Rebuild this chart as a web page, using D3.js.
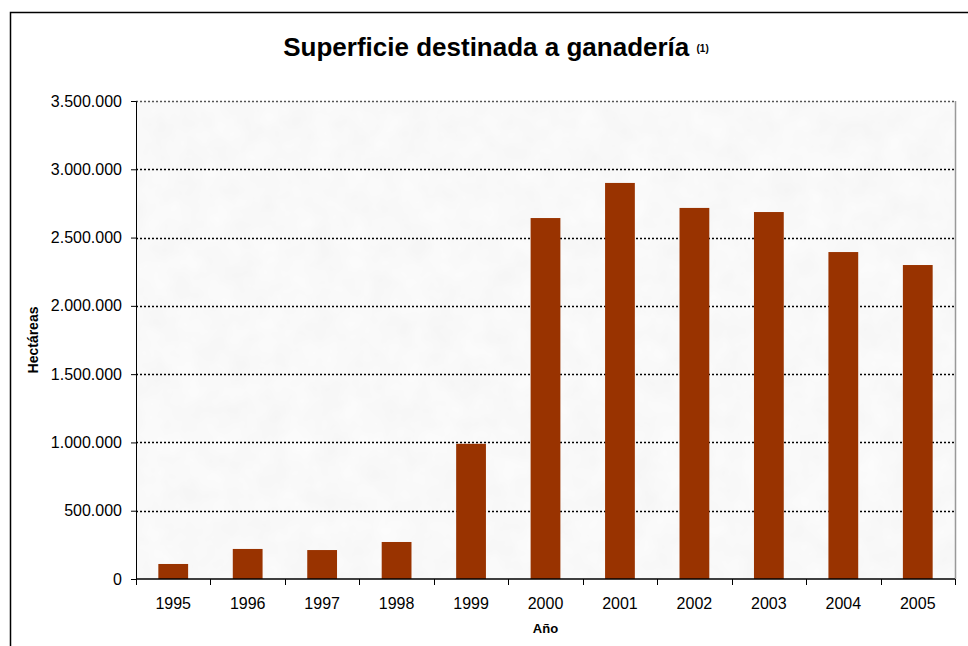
<!DOCTYPE html>
<html lang="es">
<head>
<meta charset="UTF-8">
<script src="https://d3js.org/d3.v7.min.js"></script>
<title>Superficie destinada a ganadería</title>
<style>
  html, body { margin: 0; padding: 0; background: #fff; }
  text { font-family: "Liberation Sans", Arial, sans-serif; fill: #000; }
  .tick text { font-size: 16px; }
</style>
</head>
<body>
<script>
// datos
const years = ["1995", "1996", "1997", "1998", "1999", "2000", "2001", "2002", "2003", "2004", "2005"];
const hectares = [110000, 220000, 212000, 271000, 990000, 2643000, 2900000, 2717000, 2687000, 2394000, 2299000];
const yTicks = [0, 500000, 1000000, 1500000, 2000000, 2500000, 3000000, 3500000];

const width = 968, height = 646;
const margin = { top: 101, right: 13, bottom: 67, left: 136 };

const svg = d3.select("body").append("svg")
  .attr("width", width)
  .attr("height", height);

// textura gris clara del fondo
const defs = svg.append("defs");
const filt = defs.append("filter")
  .attr("id", "paper")
  .attr("x", 0).attr("y", 0).attr("width", 1).attr("height", 1);
filt.append("feTurbulence")
  .attr("type", "fractalNoise")
  .attr("baseFrequency", 0.035)
  .attr("numOctaves", 3)
  .attr("seed", 4)
  .attr("result", "noise");
filt.append("feColorMatrix")
  .attr("in", "noise")
  .attr("type", "matrix")
  .attr("values", "0 0 0 0.07 0.91  0 0 0 0.07 0.91  0 0 0 0.07 0.91  0 0 0 0 1");

// outer frame (only top and left visible)
svg.append("path")
  .attr("d", "M10.5,646 V12.5 H968")
  .attr("fill", "none")
  .attr("stroke", "#000")
  .attr("stroke-width", 1.5);

const x = d3.scaleBand()
  .domain(years)
  .range([margin.left, width - margin.right])
  .paddingInner(0.6)
  .paddingOuter(0.3);

const y = d3.scaleLinear()
  .domain([0, 3500000])
  .range([height - margin.bottom, margin.top]);

const es = d3.formatLocale({ decimal: ",", thousands: ".", grouping: [3], currency: ["", " €"] });
const fmt = es.format(",");

// plot background
svg.append("rect")
  .attr("x", margin.left)
  .attr("y", margin.top)
  .attr("width", width - margin.right - margin.left)
  .attr("height", height - margin.bottom - margin.top)
  .attr("fill", "#f1f1f1")
  .attr("filter", "url(#paper)");

// gridlines
svg.append("g")
  .selectAll("line")
  .data(yTicks.slice(1))
  .join("line")
  .attr("x1", margin.left)
  .attr("x2", width - margin.right)
  .attr("y1", d => Math.round(y(d)) + 0.5)
  .attr("y2", d => Math.round(y(d)) + 0.5)
  .attr("stroke", (d, i) => i === yTicks.length - 2 ? "#555" : "#000")
  .attr("stroke-width", 1.6)
  .attr("stroke-dasharray", "2,2");

// right border of plot
svg.append("line")
  .attr("x1", width - margin.right + 0.5)
  .attr("x2", width - margin.right + 0.5)
  .attr("y1", margin.top)
  .attr("y2", height - margin.bottom)
  .attr("stroke", "#999")
  .attr("stroke-width", 1.5);

// bars
svg.append("g")
  .selectAll("rect")
  .data(years.map((yr, i) => ({ yr, v: hectares[i] })))
  .join("rect")
  .attr("x", d => x(d.yr))
  .attr("y", d => y(d.v))
  .attr("width", x.bandwidth())
  .attr("height", d => y(0) - y(d.v))
  .attr("fill", "#993300");

// y axis
const yAxis = svg.append("g")
  .attr("transform", `translate(${margin.left},0)`)
  .call(d3.axisLeft(y).tickValues(yTicks).tickFormat(fmt).tickSize(5).tickPadding(9));
yAxis.select(".domain").attr("stroke", "#000").attr("stroke-width", 1);

// x axis with ticks at category boundaries
const xAxisG = svg.append("g")
  .attr("transform", `translate(0,${height - margin.bottom})`);
xAxisG.append("line")
  .attr("x1", margin.left)
  .attr("x2", width - margin.right)
  .attr("stroke", "#000")
  .attr("stroke-width", 1.5);
const bounds = d3.range(years.length + 1).map(i => margin.left + i * (width - margin.right - margin.left) / years.length);
xAxisG.selectAll(".bt")
  .data(bounds)
  .join("line")
  .attr("class", "bt")
  .attr("x1", d => Math.round(d) + 0.5)
  .attr("x2", d => Math.round(d) + 0.5)
  .attr("y1", 0)
  .attr("y2", 6)
  .attr("stroke", "#000");
xAxisG.selectAll(".lab")
  .data(years)
  .join("text")
  .attr("class", "lab")
  .attr("x", d => x(d) + x.bandwidth() / 2)
  .attr("y", 30)
  .attr("text-anchor", "middle")
  .style("font-size", "16px")
  .text(d => d);

// title
const title = svg.append("text")
  .attr("x", 496)
  .attr("y", 56)
  .attr("text-anchor", "middle")
  .style("font-size", "26px")
  .style("font-weight", "bold");
title.append("tspan").text("Superficie destinada a ganadería ");
title.append("tspan")
  .attr("dy", -4)
  .style("font-size", "10px")
  .text("(1)");

// axis titles
svg.append("text")
  .attr("transform", `translate(38,${(margin.top + height - margin.bottom) / 2}) rotate(-90)`)
  .attr("text-anchor", "middle")
  .style("font-size", "14px")
  .style("font-weight", "bold")
  .text("Hectáreas");

svg.append("text")
  .attr("x", (margin.left + width - margin.right) / 2)
  .attr("y", 633)
  .attr("text-anchor", "middle")
  .style("font-size", "13px")
  .style("font-weight", "bold")
  .text("Año");
</script>
</body>
</html>
